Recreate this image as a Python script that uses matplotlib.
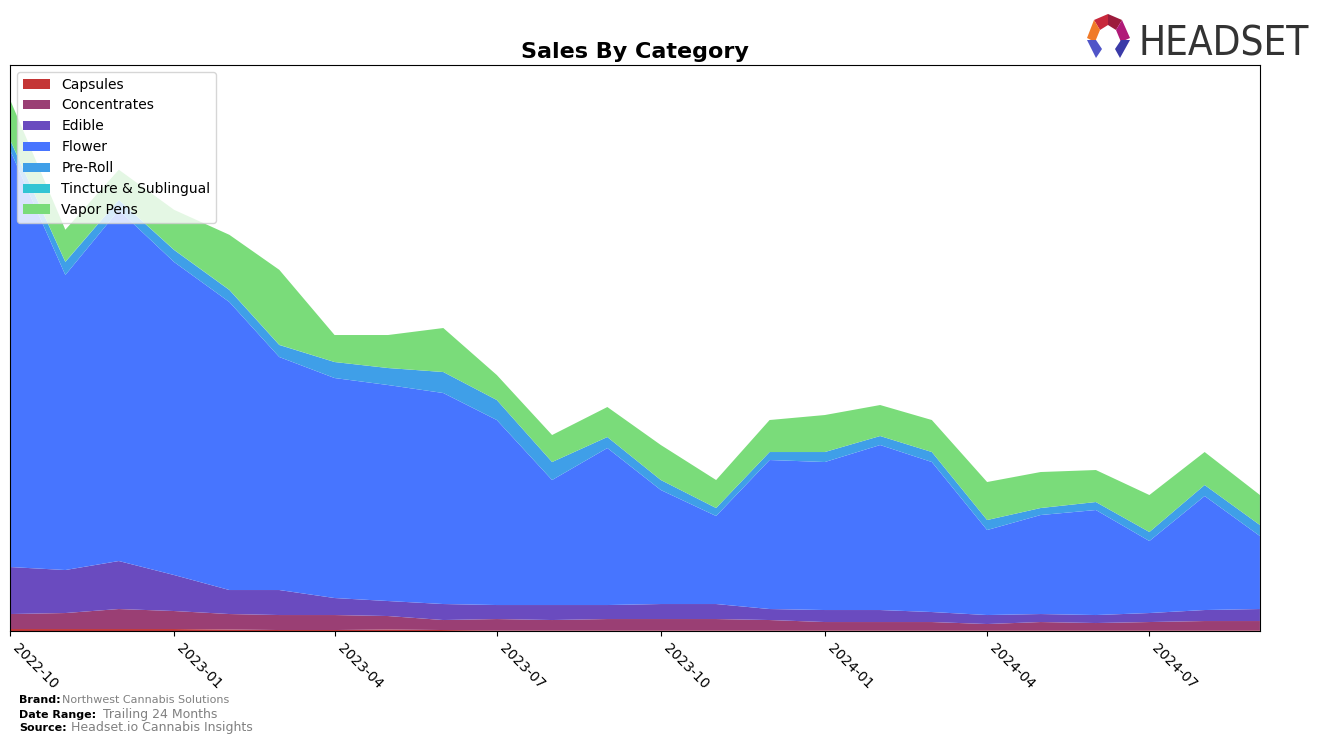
import matplotlib
matplotlib.use('Agg')
import matplotlib.pyplot as plt
import matplotlib.dates as mdates
from matplotlib.patches import Polygon
import pandas as pd

# monthly sales by category (thousands, estimated from chart)
months = pd.date_range('2022-10-01', '2024-09-01', freq='MS')
categories = ['Capsules', 'Concentrates', 'Edible', 'Flower', 'Pre-Roll',
              'Tincture & Sublingual', 'Vapor Pens']
capsules = [2, 2, 2, 2, 1.5, 1, 1, 1.5, 1, 0.5, 0.5, 0.5,
            0.5, 0.5, 0.5, 0.5, 0.5, 0.5, 0.5, 0.5, 0.5, 0.5, 0.5, 0.5]
concentrates = [15, 16, 20, 18, 15.5, 15, 15, 13.5, 10, 11.5, 10.5, 11.5,
                11.5, 11.5, 10.5, 8.5, 8.5, 8.5, 6.5, 8.5, 7.5, 8.5, 9.5, 9.5]
edible = [47, 43, 48, 36, 24, 25, 17, 15, 16, 14, 15, 14,
          15, 15, 11, 12, 12, 10, 9, 8, 8, 9, 11, 12]
flower = [417, 295, 351, 313, 288, 233, 220, 216, 211, 185, 125, 157,
          114, 88, 149, 148, 165, 150, 85, 99, 105, 72, 114, 73]
preroll = [10, 13, 10, 12, 12, 12, 16, 17, 21, 20, 18, 11,
           10, 8, 8, 10, 9, 10, 10, 7, 8, 9, 11, 11]
tincture = [0.3, 0.3, 0.3, 0.2, 0.2, 0.2, 0, 0, 0, 0, 0, 0,
            0, 0, 0, 0, 0, 0, 0, 0, 0, 0, 0, 0]
vapor = [40, 32, 30, 40, 55, 75, 27, 33, 44, 25, 27, 30,
         35, 28, 32, 37, 31, 32, 38, 36, 32, 37, 33, 30]
colors = ['#c43535', '#9a3f74', '#6a4bbf', '#4775ff', '#3f9fe8', '#33c5d4', '#7adc7a']

fig = plt.figure(figsize=(13.24, 7.43), dpi=100)
ax = fig.add_axes([0.0076, 0.1507, 0.944, 0.7618])

ax.stackplot(months, capsules, concentrates, edible, flower, preroll, tincture, vapor,
             labels=categories, colors=colors)
ax.set_xlim(months[0], months[-1])
ax.set_ylim(0, 566)
ax.set_yticks([])
ax.xaxis.set_major_locator(mdates.MonthLocator(bymonth=[1, 4, 7, 10]))
ax.xaxis.set_major_formatter(mdates.DateFormatter('%Y-%m'))
ax.tick_params(axis='x', labelsize=10)
for lbl in ax.get_xticklabels():
    lbl.set_rotation(-45)
    lbl.set_ha('left')
ax.set_title('Sales By Category', fontsize=16, fontweight='bold', pad=5)
ax.legend(loc='upper left', fontsize=10, framealpha=0.8, labelspacing=0.5)

# footer
fig.text(0.0145, 0.0535, 'Brand:', fontsize=8, fontweight='bold')
fig.text(0.047, 0.0535, 'Northwest Cannabis Solutions', fontsize=8, color='gray')
fig.text(0.0145, 0.034, 'Date Range:', fontsize=8, fontweight='bold')
fig.text(0.078, 0.034, 'Trailing 24 Months', fontsize=9, color='gray')
fig.text(0.0145, 0.0155, 'Source:', fontsize=8, fontweight='bold')
fig.text(0.054, 0.0155, 'Headset.io Cannabis Insights', fontsize=9, color='gray')

# logo
W, H = 1324, 743
def poly(pts, c):
    fig.patches.append(Polygon([(x / W, 1 - y / H) for x, y in pts], closed=True,
                               transform=fig.transFigure, facecolor=c, edgecolor='none'))
poly([(1108, 14), (1094, 20), (1100, 30), (1108, 25)], '#c8283c')
poly([(1108, 14), (1122, 20), (1116, 30), (1108, 25)], '#9c1b3c')
poly([(1094, 20), (1087, 38), (1095, 42), (1100, 30)], '#f07a28')
poly([(1122, 20), (1130, 38), (1121, 42), (1116, 30)], '#b01a78')
poly([(1087, 40), (1096, 40), (1102, 49), (1096, 58)], '#5055c8')
poly([(1130, 40), (1121, 40), (1115, 49), (1120, 58)], '#3a3aa8')
fig.text(1139 / W, 1 - 55 / H, 'HEADSET', fontsize=29, color='#333333',
         family='DejaVu Sans', fontstretch='condensed')

fig.savefig('out.png', dpi=100)
